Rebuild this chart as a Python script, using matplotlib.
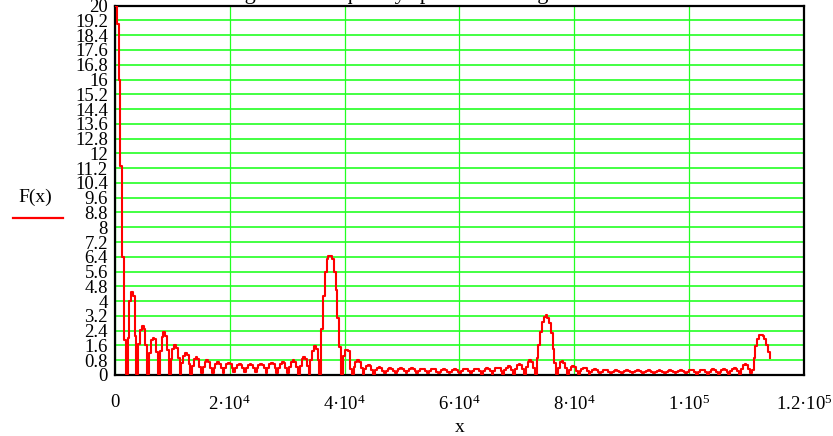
import numpy as np
import matplotlib
matplotlib.use('Agg')
import matplotlib.pyplot as plt
from matplotlib.lines import Line2D
from matplotlib.ticker import FuncFormatter

plt.rcParams['font.family'] = ['Liberation Serif', 'DejaVu Serif']
plt.rcParams['mathtext.fontset'] = 'custom'
plt.rcParams['mathtext.rm'] = 'Liberation Serif'
plt.rcParams['mathtext.it'] = 'Liberation Serif:italic'

# -------------------- Data --------------------
bin_width = 312.5          # spacing of the spectrum samples
title = 'Magnitude frequency spectrum of signal'

# main lobe at DC
dc_lobe = [20, 19.0, 16.0, 11.3, 6.4, 1.9]

# sidelobes between DC and the first harmonic
ripple_a = [
    0.05, 2.0, 4.0, 4.5, 4.3, 2.1,
    0.05, 1.7, 2.45, 2.65, 2.5, 1.6,
    0.05, 1.2, 1.9, 2.0, 1.95, 1.25,
    0.05, 1.3, 2.05, 2.3, 2.1, 1.35,
    0.05, 0.85, 1.4, 1.6, 1.45, 0.9,
    0.05, 0.65, 1.05, 1.2, 1.1, 0.6,
    0.05, 0.5, 0.85, 0.95, 0.85, 0.45,
    0.08, 0.45, 0.7, 0.8, 0.72, 0.4,
    0.1, 0.4, 0.62, 0.7, 0.62, 0.38,
    0.12, 0.38, 0.58, 0.65, 0.58, 0.36,
    0.14, 0.36, 0.55, 0.62, 0.55, 0.35,
    0.15, 0.35, 0.54, 0.6, 0.54, 0.35,
    0.14, 0.36, 0.55, 0.62, 0.56, 0.36,
    0.12, 0.38, 0.58, 0.66, 0.6, 0.38,
    0.1, 0.4, 0.62, 0.72, 0.65, 0.4,
    0.08, 0.45, 0.7, 0.8, 0.72, 0.42,
    0.05, 0.5, 0.85, 0.98, 0.88, 0.5,
    0.05, 0.8, 1.3, 1.55, 1.4, 0.8,
]

peak_1 = [0.05, 2.5, 4.25, 5.6, 6.3, 6.45, 6.45, 6.3, 5.6, 4.6, 3.1, 1.5]

ripple_b = [
    0.05, 1.0, 1.35, 1.35, 1.3, 0.3,
    0.05, 0.45, 0.72, 0.8, 0.72, 0.4,
    0.05, 0.3, 0.5, 0.55, 0.5, 0.28,
    0.06, 0.25, 0.4, 0.45, 0.4, 0.24,
    0.08, 0.2, 0.32, 0.36, 0.33, 0.2,
    0.08, 0.2, 0.32, 0.36, 0.32, 0.2,
    0.08, 0.2, 0.31, 0.35, 0.31, 0.19,
    0.08, 0.19, 0.3, 0.34, 0.3, 0.19,
    0.08, 0.19, 0.3, 0.33, 0.3, 0.18,
    0.08, 0.18, 0.29, 0.32, 0.29, 0.18,
    0.08, 0.18, 0.29, 0.32, 0.29, 0.18,
    0.08, 0.19, 0.3, 0.33, 0.3, 0.19,
    0.08, 0.19, 0.31, 0.34, 0.31, 0.2,
    0.07, 0.2, 0.33, 0.37, 0.33, 0.21,
    0.06, 0.22, 0.36, 0.4, 0.36, 0.22,
    0.05, 0.25, 0.4, 0.46, 0.41, 0.25,
    0.05, 0.32, 0.52, 0.6, 0.54, 0.32,
    0.05, 0.42, 0.7, 0.8, 0.72, 0.4,
]

peak_2 = [0.05, 0.9, 1.6, 2.3, 2.85, 3.15, 3.25, 3.1, 2.8, 2.25, 1.4, 0.65]

ripple_c = [
    0.05, 0.4, 0.68, 0.75, 0.66, 0.35,
    0.05, 0.25, 0.42, 0.48, 0.42, 0.24,
    0.06, 0.2, 0.34, 0.4, 0.35, 0.2,
    0.07, 0.17, 0.27, 0.3, 0.27, 0.17,
    0.08, 0.16, 0.25, 0.28, 0.25, 0.16,
    0.08, 0.15, 0.24, 0.27, 0.24, 0.15,
    0.08, 0.15, 0.23, 0.26, 0.23, 0.15,
    0.08, 0.15, 0.23, 0.26, 0.23, 0.15,
    0.08, 0.14, 0.22, 0.25, 0.22, 0.14,
    0.08, 0.15, 0.23, 0.26, 0.23, 0.15,
    0.08, 0.15, 0.23, 0.26, 0.23, 0.15,
    0.08, 0.15, 0.24, 0.27, 0.24, 0.15,
    0.08, 0.16, 0.25, 0.28, 0.25, 0.16,
    0.07, 0.17, 0.26, 0.29, 0.26, 0.17,
    0.07, 0.17, 0.27, 0.3, 0.27, 0.17,
    0.06, 0.18, 0.28, 0.32, 0.28, 0.18,
    0.05, 0.2, 0.31, 0.36, 0.32, 0.2,
    0.05, 0.3, 0.52, 0.62, 0.55, 0.3,
]

peak_3 = [0.1, 0.25, 0.9, 1.55, 1.95, 2.15, 2.17, 2.1, 1.95, 1.6, 1.26, 0.9]

x_ticks = [0, 2e4, 4e4, 6e4, 8e4, 1e5, 1.2e5]
x_ticklabels = ['0', '2·10$^{4}$', '4·10$^{4}$', '6·10$^{4}$', '8·10$^{4}$',
                '1·10$^{5}$', '1.2·10$^{5}$']
y_step = 0.8

# -------------------- Build series --------------------
F = np.array(dc_lobe + ripple_a + peak_1 + ripple_b + peak_2 + ripple_c + peak_3)
x = np.arange(len(F)) * bin_width

# -------------------- Plot --------------------
fig = plt.figure(figsize=(8.33, 4.36), dpi=100)
ax = fig.add_axes([0.138, 0.140, 0.827, 0.847])

ax.plot(x, F, drawstyle='steps-post', color='red', lw=1.5, zorder=3)

ax.set_xlim(0, 1.2e5)
ax.set_ylim(0, 20)
ax.set_xticks(x_ticks)
ax.set_xticklabels(x_ticklabels)
ax.set_yticks(np.arange(0, 20 + y_step / 2, y_step))
ax.yaxis.set_major_formatter(FuncFormatter(lambda v, p: f'{round(v, 1):g}'))

ax.grid(True, axis='y', color='#22ff22', lw=1.2)
ax.grid(True, axis='x', color='#22ff22', lw=0.9)
ax.set_axisbelow(True)

ax.tick_params(length=0, labelsize=13.5)
ax.tick_params(axis='y', pad=5)
ax.tick_params(axis='x', pad=14)
for s in ax.spines.values():
    s.set_linewidth(1.6)
    s.set_color('black')

ax.set_xlabel('x', fontsize=14, labelpad=4)

# Mathcad-style trace label
fig.text(0.042, 0.547, 'F(x)', fontsize=14, ha='center', va='center')
fig.add_artist(Line2D([0.016, 0.076], [0.5, 0.5], color='red', lw=1.6,
                      transform=fig.transFigure))

# title sits above the top edge, only descenders show
fig.text(0.258, 1.003, title, fontsize=16, ha='left', va='baseline')

fig.savefig('out.png', dpi=100)
